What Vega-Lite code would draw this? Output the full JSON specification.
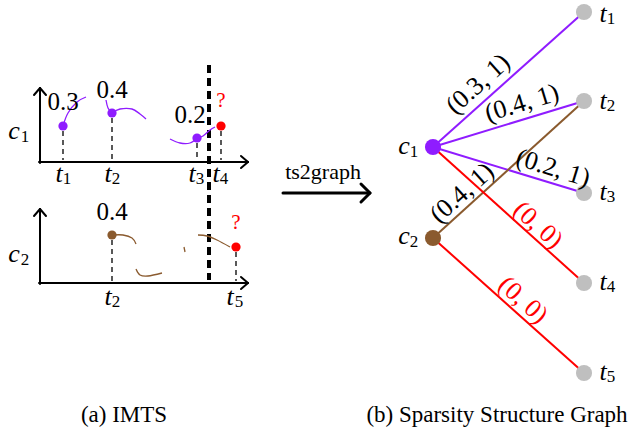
{
"$schema":"https://vega.github.io/schema/vega-lite/v6.json",
"width":634,"height":436,"padding":0,
"autosize":{"type":"fit","contains":"padding"},
"config":{"view":{"stroke":null}},
"datasets":{
"segs":[
{"x":40,"y":163,"x2":40,"y2":88,"g":"axis"},
{"x":39,"y":162,"x2":248,"y2":162,"g":"axis"},
{"x":34,"y":95,"x2":40,"y2":88,"g":"axis"},
{"x":46,"y":95,"x2":40,"y2":88,"g":"axis"},
{"x":241,"y":156,"x2":248,"y2":162,"g":"axis"},
{"x":241,"y":168,"x2":248,"y2":162,"g":"axis"},
{"x":40,"y":284,"x2":40,"y2":209,"g":"axis"},
{"x":39,"y":283,"x2":248,"y2":283,"g":"axis"},
{"x":34,"y":216,"x2":40,"y2":209,"g":"axis"},
{"x":46,"y":216,"x2":40,"y2":209,"g":"axis"},
{"x":241,"y":277,"x2":248,"y2":283,"g":"axis"},
{"x":241,"y":289,"x2":248,"y2":283,"g":"axis"},
{"x":63,"y":131,"x2":63,"y2":160,"g":"drop"},
{"x":112,"y":118,"x2":112,"y2":160,"g":"drop"},
{"x":197,"y":143,"x2":197,"y2":160,"g":"drop"},
{"x":221,"y":131,"x2":221,"y2":160,"g":"drop"},
{"x":112,"y":240,"x2":112,"y2":281,"g":"drop"},
{"x":236,"y":252,"x2":236,"y2":281,"g":"drop"},
{"x":209,"y":65,"x2":209,"y2":280,"g":"cut"},
{"x":283,"y":193,"x2":368,"y2":193,"g":"arrow"},
{"x":361,"y":184,"x2":370,"y2":193,"g":"arrow"},
{"x":361,"y":202,"x2":370,"y2":193,"g":"arrow"},
{"x":433,"y":147,"x2":584,"y2":12,"g":"c1"},
{"x":433,"y":147,"x2":584,"y2":101,"g":"c1"},
{"x":433,"y":147,"x2":584,"y2":193,"g":"c1"},
{"x":433,"y":238,"x2":584,"y2":101,"g":"c2"},
{"x":433,"y":147,"x2":584,"y2":283,"g":"miss"},
{"x":433,"y":238,"x2":584,"y2":373,"g":"miss"}
],
"curves":[
{"c":"A","s":"c1","o":1,"x":63,"y":126},{"c":"A","s":"c1","o":2,"x":68,"y":113},{"c":"A","s":"c1","o":3,"x":77,"y":102},{"c":"A","s":"c1","o":4,"x":86,"y":97},
{"c":"B","s":"c1","o":1,"x":106,"y":100},{"c":"B","s":"c1","o":2,"x":108,"y":108},{"c":"B","s":"c1","o":3,"x":112,"y":113},
{"c":"C","s":"c1","o":1,"x":112,"y":113},{"c":"C","s":"c1","o":2,"x":120,"y":109},{"c":"C","s":"c1","o":3,"x":132,"y":109},{"c":"C","s":"c1","o":4,"x":140,"y":114},{"c":"C","s":"c1","o":5,"x":146,"y":119},
{"c":"D","s":"c1","o":1,"x":170,"y":139},{"c":"D","s":"c1","o":2,"x":180,"y":143},{"c":"D","s":"c1","o":3,"x":190,"y":143},{"c":"D","s":"c1","o":4,"x":197,"y":138},
{"c":"E","s":"c1","o":1,"x":197,"y":138},{"c":"E","s":"c1","o":2,"x":203,"y":136},{"c":"E","s":"c1","o":3,"x":210,"y":130},{"c":"E","s":"c1","o":4,"x":215,"y":127},
{"c":"F","s":"c2","o":1,"x":113,"y":235},{"c":"F","s":"c2","o":2,"x":123,"y":235},{"c":"F","s":"c2","o":3,"x":132,"y":238},{"c":"F","s":"c2","o":4,"x":136,"y":244},
{"c":"G","s":"c2","o":1,"x":136,"y":269},{"c":"G","s":"c2","o":2,"x":140,"y":275},{"c":"G","s":"c2","o":3,"x":148,"y":276},{"c":"G","s":"c2","o":4,"x":162,"y":273},
{"c":"H","s":"c2","o":1,"x":184,"y":247},{"c":"H","s":"c2","o":2,"x":185,"y":252},
{"c":"I","s":"c2","o":1,"x":198,"y":235},{"c":"I","s":"c2","o":2,"x":207,"y":236},{"c":"I","s":"c2","o":3,"x":217,"y":240},{"c":"I","s":"c2","o":4,"x":230,"y":247}
],
"nodes":[
{"p":"a","s":"c1","x":63,"y":126},{"p":"a","s":"c1","x":112,"y":113},{"p":"a","s":"c1","x":197,"y":138},{"p":"a","s":"miss","x":221,"y":126},
{"p":"a","s":"c2","x":112,"y":235},{"p":"a","s":"miss","x":236,"y":247},
{"p":"b","s":"c1","x":433,"y":147},{"p":"b","s":"c2","x":433,"y":238},
{"p":"b","s":"t","x":584,"y":12},{"p":"b","s":"t","x":584,"y":101},{"p":"b","s":"t","x":584,"y":193},{"p":"b","s":"t","x":584,"y":283},{"p":"b","s":"t","x":584,"y":373}
],
"texts":[
{"k":"var","t":"c","x":14,"y":131},{"k":"sub","t":"1","x":25,"y":137},
{"k":"var","t":"c","x":14,"y":254},{"k":"sub","t":"2","x":25,"y":260},
{"k":"var","t":"t","x":59,"y":174},{"k":"sub","t":"1","x":67,"y":179},
{"k":"var","t":"t","x":108,"y":174},{"k":"sub","t":"2","x":116,"y":179},
{"k":"var","t":"t","x":192,"y":174},{"k":"sub","t":"3","x":200,"y":179},
{"k":"var","t":"t","x":216,"y":174},{"k":"sub","t":"4","x":224,"y":179},
{"k":"var","t":"t","x":108,"y":297},{"k":"sub","t":"2","x":116,"y":302},
{"k":"var","t":"t","x":230,"y":297},{"k":"sub","t":"5","x":239,"y":302},
{"k":"var","t":"c","x":404,"y":146},{"k":"sub","t":"1","x":414,"y":152},
{"k":"var","t":"c","x":404,"y":236},{"k":"sub","t":"2","x":414,"y":242},
{"k":"var","t":"t","x":603,"y":14},{"k":"sub","t":"1","x":611,"y":19},
{"k":"var","t":"t","x":603,"y":101},{"k":"sub","t":"2","x":611,"y":106},
{"k":"var","t":"t","x":603,"y":192},{"k":"sub","t":"3","x":611,"y":197},
{"k":"var","t":"t","x":603,"y":282},{"k":"sub","t":"4","x":611,"y":287},
{"k":"var","t":"t","x":603,"y":372},{"k":"sub","t":"5","x":611,"y":377},
{"k":"num","t":"0.3","x":63,"y":102},{"k":"num","t":"0.4","x":112,"y":90},{"k":"num","t":"0.2","x":190,"y":115},{"k":"num","t":"0.4","x":112,"y":212},
{"k":"q","t":"?","x":221,"y":101},{"k":"q","t":"?","x":236,"y":223},
{"k":"cap","t":"(a) IMTS","x":124,"y":415},{"k":"cap","t":"(b) Sparsity Structure Graph","x":497,"y":415},
{"k":"op","t":"ts2graph","x":323,"y":172},
{"k":"eup","t":"(0.3, 1)","x":478,"y":84},{"k":"eup","t":"(0.4, 1)","x":462,"y":193},
{"k":"eflat","t":"(0.4, 1)","x":522,"y":103},
{"k":"edown","t":"(0.2, 1)","x":553,"y":168},
{"k":"ered","t":"(0, 0)","x":538,"y":225},{"k":"ered","t":"(0, 0)","x":523,"y":300}
]
},
"encoding":{
"x":{"field":"x","type":"quantitative","scale":{"domain":[0,634],"nice":false,"zero":false},"axis":null},
"y":{"field":"y","type":"quantitative","scale":{"domain":[0,436],"nice":false,"zero":false,"reverse":true},"axis":null}
},
"layer":[
{"data":{"name":"segs"},"transform":[{"filter":"datum.g=='axis'"}],"mark":{"type":"rule","stroke":"black","strokeWidth":2,"strokeCap":"round"},"encoding":{"x2":{"field":"x2"},"y2":{"field":"y2"}}},
{"data":{"name":"segs"},"transform":[{"filter":"datum.g=='drop'"}],"mark":{"type":"rule","stroke":"black","strokeWidth":1.3,"strokeDash":[5,4]},"encoding":{"x2":{"field":"x2"},"y2":{"field":"y2"}}},
{"data":{"name":"segs"},"transform":[{"filter":"datum.g=='cut'"}],"mark":{"type":"rule","stroke":"black","strokeWidth":4,"strokeDash":[8,5]},"encoding":{"x2":{"field":"x2"},"y2":{"field":"y2"}}},
{"data":{"name":"segs"},"transform":[{"filter":"datum.g=='arrow'"}],"mark":{"type":"rule","stroke":"black","strokeWidth":3,"strokeCap":"round"},"encoding":{"x2":{"field":"x2"},"y2":{"field":"y2"}}},
{"data":{"name":"segs"},"transform":[{"filter":"datum.g=='c1'||datum.g=='c2'||datum.g=='miss'"}],"mark":{"type":"rule","strokeWidth":2},"encoding":{"x2":{"field":"x2"},"y2":{"field":"y2"},"color":{"field":"g","type":"nominal","scale":{"domain":["c1","c2","miss","t"],"range":["#8f1cff","#8a5a2e","#ff0000","#bfbfbf"]},"legend":null}}},
{"data":{"name":"curves"},"mark":{"type":"line","strokeWidth":1.3,"interpolate":"cardinal"},"encoding":{"detail":{"field":"c"},"order":{"field":"o"},"color":{"field":"s","type":"nominal","scale":{"domain":["c1","c2","miss","t"],"range":["#8f1cff","#8a5a2e","#ff0000","#bfbfbf"]},"legend":null}}},
{"data":{"name":"nodes"},"transform":[{"filter":"datum.p=='a'"}],"mark":{"type":"point","filled":true,"opacity":1,"size":85},"encoding":{"color":{"field":"s","type":"nominal","scale":{"domain":["c1","c2","miss","t"],"range":["#8f1cff","#8a5a2e","#ff0000","#bfbfbf"]},"legend":null}}},
{"data":{"name":"nodes"},"transform":[{"filter":"datum.p=='b'"}],"mark":{"type":"point","filled":true,"opacity":1,"size":260},"encoding":{"color":{"field":"s","type":"nominal","scale":{"domain":["c1","c2","miss","t"],"range":["#8f1cff","#8a5a2e","#ff0000","#bfbfbf"]},"legend":null}}},
{"data":{"name":"texts"},"transform":[{"filter":"datum.k=='var'"}],"mark":{"type":"text","font":"Liberation Serif","baseline":"middle","align":"center","fontSize":26,"fontStyle":"italic","color":"black"},"encoding":{"text":{"field":"t"}}},
{"data":{"name":"texts"},"transform":[{"filter":"datum.k=='sub'"}],"mark":{"type":"text","font":"Liberation Serif","baseline":"middle","align":"center","fontSize":17,"color":"black"},"encoding":{"text":{"field":"t"}}},
{"data":{"name":"texts"},"transform":[{"filter":"datum.k=='num'"}],"mark":{"type":"text","font":"Liberation Serif","baseline":"middle","align":"center","fontSize":25,"color":"black"},"encoding":{"text":{"field":"t"}}},
{"data":{"name":"texts"},"transform":[{"filter":"datum.k=='q'"}],"mark":{"type":"text","font":"Liberation Serif","baseline":"middle","align":"center","fontSize":21,"color":"#ff0000"},"encoding":{"text":{"field":"t"}}},
{"data":{"name":"texts"},"transform":[{"filter":"datum.k=='cap'"}],"mark":{"type":"text","font":"Liberation Serif","baseline":"middle","align":"center","fontSize":23,"color":"black"},"encoding":{"text":{"field":"t"}}},
{"data":{"name":"texts"},"transform":[{"filter":"datum.k=='op'"}],"mark":{"type":"text","font":"Liberation Serif","baseline":"middle","align":"center","fontSize":22,"color":"black"},"encoding":{"text":{"field":"t"}}},
{"data":{"name":"texts"},"transform":[{"filter":"datum.k=='eup'"}],"mark":{"type":"text","font":"Liberation Serif","baseline":"middle","align":"center","fontSize":26,"color":"black","angle":-42},"encoding":{"text":{"field":"t"}}},
{"data":{"name":"texts"},"transform":[{"filter":"datum.k=='eflat'"}],"mark":{"type":"text","font":"Liberation Serif","baseline":"middle","align":"center","fontSize":26,"color":"black","angle":-17},"encoding":{"text":{"field":"t"}}},
{"data":{"name":"texts"},"transform":[{"filter":"datum.k=='edown'"}],"mark":{"type":"text","font":"Liberation Serif","baseline":"middle","align":"center","fontSize":26,"color":"black","angle":17},"encoding":{"text":{"field":"t"}}},
{"data":{"name":"texts"},"transform":[{"filter":"datum.k=='ered'"}],"mark":{"type":"text","font":"Liberation Serif","baseline":"middle","align":"center","fontSize":26,"color":"#ff0000","angle":42},"encoding":{"text":{"field":"t"}}}
]
}
